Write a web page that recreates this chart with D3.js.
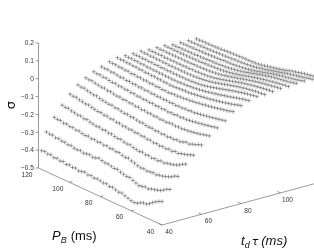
<!DOCTYPE html>
<html><head><meta charset="utf-8">
<style>html,body{margin:0;padding:0;background:#fff;overflow:hidden}svg{display:block;filter:blur(.35px)}text{font-family:"Liberation Sans",Arial,sans-serif;fill:#333}</style>
<script src="https://cdn.jsdelivr.net/npm/d3@7"></script></head><body>
<script>
const pbTicks=[120,100,80,60,40];
const tdTicks=[40,60,80,100];
const sigmaTicks=[0.2,0.1,0,-0.1,-0.2,-0.3,-0.4,-0.5];
const sigmaLabels=["0.2","0.1","0","\u22120.1","\u22120.2","\u22120.3","\u22120.4","\u22120.5"];
const tdValues=[40,44,48,52,56,60,64,68,72,76,80,84,88,92,96,100,104,108,112,116,120];
const pbValues=[120,118,116,114,112,110,108,106,104,102,100,98,96,94,92,90,88,86,84,82,80,78,76,74,72,70,68,66,64,62,60,58,56,54,52,50,48,46,44,42,40];
const s40=[null,-.395,-.392,-.398,-.394,-.402,-.398,-.405,-.400,-.408,-.403,-.409,-.405,-.412,-.408,-.404,-.411,-.407,-.413,-.409,-.412,-.416,-.413,-.420,-.417,-.423,-.428,-.425,-.432,-.438,-.444,-.446,-.442,-.431,-.424,-.423,-.412,-.398,-.386,-.376,-.369];
const s44=[-.310,-.314,-.312,-.319,-.316,-.322,-.320,-.326,-.323,-.329,-.330,-.327,-.333,-.329,-.326,-.332,-.328,-.321,-.327,-.331,-.330,-.335,-.339,-.336,-.344,-.348,-.352,-.350,-.358,-.365,-.371,-.368,-.362,-.366,-.358,-.354,-.349,-.343,-.332,-.320,-.313];
const s48=[-.240,-.244,-.242,-.249,-.246,-.252,-.250,-.256,-.253,-.259,-.262,-.258,-.264,-.261,-.266,-.262,-.268,-.264,-.270,-.267,-.273,-.270,-.277,-.281,-.278,-.285,-.289,-.296,-.300,-.297,-.302,-.298,-.295,-.299,-.293,-.290,-.284,-.278,-.270,-.258,-.252];
const s52=[-.184,-.188,-.186,-.192,-.195,-.199,-.197,-.204,-.201,-.207,-.210,-.214,-.211,-.217,-.214,-.221,-.218,-.224,-.227,-.224,-.231,-.234,-.231,-.238,-.241,-.244,-.240,-.246,-.243,-.249,-.244,-.248,-.241,-.245,-.238,-.234,-.230,-.224,-.215,-.204,-.195];
const s56=[-.134,-.138,-.136,-.142,-.145,-.149,-.147,-.153,-.156,-.160,-.158,-.164,-.162,-.168,-.166,-.172,-.170,-.176,-.174,-.178,-.176,-.181,-.179,-.184,-.182,-.187,-.185,-.191,-.188,-.192,-.189,-.193,-.187,-.191,-.184,-.187,-.180,-.176,-.170,-.163,-.157];
const s60=[-.095,-.099,-.097,-.103,-.106,-.110,-.108,-.114,-.117,-.120,-.123,-.121,-.127,-.125,-.130,-.134,-.132,-.137,-.135,-.140,-.143,-.141,-.146,-.148,-.146,-.151,-.149,-.153,-.150,-.154,-.150,-.152,-.147,-.149,-.143,-.136,-.139,-.131,-.126,-.118,-.112];
const s64=[-.067,-.070,-.068,-.073,-.076,-.079,-.077,-.083,-.081,-.086,-.089,-.087,-.092,-.090,-.095,-.093,-.098,-.096,-.101,-.099,-.103,-.101,-.105,-.103,-.107,-.105,-.108,-.104,-.102,-.106,-.103,-.105,-.101,-.100,-.097,-.094,-.090,-.087,-.082,-.077,-.073];
const s68=[-.045,-.048,-.046,-.051,-.049,-.054,-.057,-.055,-.060,-.058,-.063,-.061,-.066,-.064,-.069,-.067,-.071,-.069,-.073,-.071,-.075,-.073,-.076,-.074,-.078,-.075,-.077,-.073,-.076,-.072,-.074,-.070,-.068,-.064,-.062,-.058,-.055,-.051,-.048,-.043,-.040];
const s72=[-.029,-.031,-.030,-.034,-.032,-.036,-.039,-.037,-.042,-.040,-.044,-.042,-.046,-.044,-.048,-.046,-.050,-.048,-.051,-.049,-.052,-.050,-.053,-.051,-.054,-.051,-.052,-.049,-.050,-.046,-.047,-.043,-.041,-.037,-.034,-.031,-.027,-.024,-.020,-.016,-.012];
const s76=[-.013,-.015,-.014,-.018,-.016,-.020,-.018,-.023,-.021,-.025,-.023,-.027,-.025,-.029,-.027,-.031,-.029,-.033,-.031,-.034,-.031,-.029,-.030,-.027,-.027,-.023,-.023,-.019,-.018,-.014,-.012,-.008,-.006,-.002,.001,.005,.009,.013,.017,.022,.027];
const s80=[-.002,-.004,-.003,-.006,-.005,-.008,-.007,-.010,-.009,-.012,-.011,-.014,-.013,-.016,-.015,-.018,-.017,-.020,-.019,-.018,-.016,-.015,-.013,-.014,-.011,-.009,-.006,-.004,-.001,.002,.005,.009,.012,.016,.020,.024,.029,.033,.038,.044,.049];
const s84=[-.003,-.005,-.004,-.006,-.005,-.008,-.007,-.010,-.009,-.011,-.010,-.012,-.011,-.013,-.012,-.014,-.013,-.014,-.012,-.011,-.010,-.008,-.007,-.004,-.002,.001,.004,.008,.012,.016,.020,.024,.029,.033,.038,.043,.048,.052,.057,.061,.065];
const s88=[-.004,-.005,-.004,-.006,-.005,-.007,-.006,-.008,-.007,-.009,-.008,-.010,-.009,-.010,-.009,-.010,-.009,-.010,-.008,-.008,-.006,-.005,-.002,.001,.005,.009,.014,.019,.024,.029,.034,.039,.044,.049,.053,.058,.062,.066,.069,.073,.076];
const s92=[-.002,-.004,-.003,-.005,-.004,-.006,-.005,-.007,-.006,-.008,-.007,-.008,-.007,-.008,-.007,-.008,-.006,-.006,-.004,-.003,-.001,.002,.005,.009,.013,.018,.023,.028,.033,.038,.043,.048,.052,.056,.060,.063,.066,.069,.071,.073,.075];
const s96=[-.006,-.007,-.006,-.007,-.006,-.008,-.007,-.008,-.007,-.008,-.007,-.008,-.006,-.007,-.005,-.006,-.004,-.004,-.002,-.001,.002,.005,.009,.013,.018,.023,.028,.033,.038,.043,.048,.052,.056,.060,.064,.067,.070,.073,.075,.078,.080];
const s100=[-.006,-.007,-.006,-.007,-.006,-.007,-.006,-.007,-.006,-.007,-.006,-.006,-.005,-.005,-.004,-.003,-.002,-.001,.001,.003,.006,.009,.013,.017,.022,.027,.031,.036,.041,.046,.050,.055,.059,.063,.067,.070,.073,.076,.079,.082,.085];
const s104=[-.007,-.008,-.007,-.008,-.007,-.008,-.007,-.008,-.007,-.007,-.006,-.006,-.005,-.004,-.003,-.002,.000,.001,.002,.004,.007,.010,.014,.018,.022,.027,.032,.037,.042,.047,.051,.055,.059,.063,.066,.070,.073,.076,.079,.082,.084];
const s108=[-.014,-.014,-.013,-.013,-.012,-.012,-.011,-.011,-.010,-.010,-.009,-.008,-.007,-.006,-.005,-.004,-.002,-.001,.001,.004,.007,.010,.014,.018,.023,.028,.033,.038,.043,.048,.052,.057,.061,.065,.068,.071,.074,.077,.080,.085,.089];
const s112=[-.014,-.014,-.013,-.013,-.012,-.012,-.011,-.010,-.010,-.009,-.008,-.007,-.006,-.005,-.003,-.002,-.001,.000,.002,.004,.006,.009,.012,.016,.020,.025,.030,.035,.040,.045,.050,.054,.058,.062,.065,.069,.072,.076,.080,.085,.090];
const s116=[-.015,-.015,-.014,-.014,-.013,-.012,-.012,-.011,-.010,-.009,-.008,-.007,-.006,-.005,-.004,-.002,-.001,.000,.002,.003,.005,.008,.011,.015,.019,.023,.028,.033,.037,.042,.046,.051,.056,.060,.064,.068,.072,.076,.080,.085,.088];
const s120=[-.016,-.016,-.015,-.015,-.014,-.014,-.013,-.012,-.011,-.010,-.008,-.007,-.006,-.005,-.004,-.003,-.002,-.002,-.001,.000,.002,.005,.009,.013,.017,.021,.025,.029,.034,.039,.045,.050,.054,.058,.063,.067,.071,.074,.078,.082,.086];
const sigmaRows=[s40,s44,s48,s52,s56,s60,s64,s68,s72,s76,s80,s84,s88,s92,s96,s100,s104,s108,s112,s116,s120];

// oblique projection of the 3-D box, built from linear scales
const pX=d3.scaleLinear().domain([120,40]).range([38.5,162]);
const pY=d3.scaleLinear().domain([120,40]).range([168,225]);
const tX=d3.scaleLinear().domain([40,120]).range([0,158]);
const tY=d3.scaleLinear().domain([40,120]).range([0,-42.8]);
const zY=d3.scaleLinear().domain([-.5,.2]).range([0,-125]);
const X=(p,t)=>pX(p)+tX(t);
const Y=(p,t,z)=>pY(p)+tY(t)+zY(z);

const svg=d3.select("body").append("svg").attr("width",314).attr("height",251);
const axisCol="#6f6f6f",tickFont=6.6;
const line=(a,b,c,d)=>svg.append("line").attr("x1",a).attr("y1",b).attr("x2",c).attr("y2",d).attr("stroke",axisCol).attr("stroke-width",.7);

// vertical axis
line(X(120,40),Y(120,40,.2),X(120,40),Y(120,40,-.5));
sigmaTicks.forEach((v,i)=>{
  const y=Y(120,40,v),x=X(120,40);
  line(x-3,y,x,y);
  svg.append("text").attr("x",x-4.5).attr("y",y+2.3).attr("text-anchor","end").attr("font-size",tickFont).text(sigmaLabels[i]);
});
// floor axes
line(X(120,40),Y(120,40,-.5),X(40,40),Y(40,40,-.5));
line(X(40,40),Y(40,40,-.5),X(40,120),Y(40,120,-.5));
pbTicks.forEach(p=>{
  const x=X(p,40),y=Y(p,40,-.5);
  if(p!==120&&p!==40)line(x,y,x-tX(41.5)*-1,y+tY(41.5)*1);
  svg.append("text").attr("x",x-11.5).attr("y",y+8.5).attr("text-anchor","middle").attr("font-size",tickFont).text(p);
});
tdTicks.forEach(t=>{
  const x=X(40,t),y=Y(40,t,-.5);
  line(x,y,x+(pX(42)-pX(40)),y+(pY(42)-pY(40)));
  svg.append("text").attr("x",x+7).attr("y",y+9).attr("text-anchor","middle").attr("font-size",tickFont).text(t);
});

// data: one row of crosses per t_d value
const r=2;
const g=svg.append("g").attr("stroke","#4f4f4f").attr("stroke-width",.55).attr("fill","none");
sigmaRows.forEach((row,k)=>{
  const t=tdValues[k];
  const pts=pbValues.map((p,i)=>[p,row[i]]).filter(d=>d[1]!==null);
  g.append("path").attr("d",pts.map(([p,z])=>{
    const x=X(p,t),y=Y(p,t,z);
    return `M${x-r},${y}H${x+r}M${x},${y-r}V${y+r}`;
  }).join(""));
});

// axis titles
svg.append("text").attr("transform","translate(15,105) rotate(-90)").attr("text-anchor","middle").attr("font-size",13).style("font-family","'DejaVu Sans'").style("fill","#111").text("\u03c3");
const pl=svg.append("text").attr("x",52).attr("y",240).attr("font-size",13).style("fill","#111");
pl.append("tspan").attr("font-style","italic").text("P");
pl.append("tspan").attr("font-style","italic").attr("font-size",9).attr("dy",3).text("B");
pl.append("tspan").attr("dy",-3).attr("dx",4).text("(ms)");
const tl=svg.append("text").attr("x",241).attr("y",245).attr("font-size",13).attr("font-style","italic").style("fill","#111");
tl.append("tspan").text("t");
tl.append("tspan").attr("font-size",9).attr("dy",3).text("d");
tl.append("tspan").attr("dy",-3).attr("dx",2).style("font-family","'DejaVu Sans'").attr("font-size",11).text("\u03c4");
tl.append("tspan").attr("dx",3).text("(ms)");
</script></body></html>
